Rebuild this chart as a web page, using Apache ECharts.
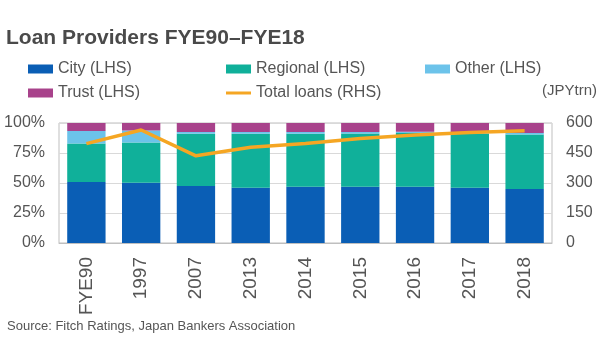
<!DOCTYPE html>
<html><head><meta charset="utf-8">
<script src="https://cdn.jsdelivr.net/npm/echarts@6/dist/echarts.min.js"></script>
<style>html,body{margin:0;padding:0;background:#fff}#c{width:600px;height:360px}</style>
</head><body><div id="c"></div>
<script>
const categories = ['FYE90','1997','2007','2013','2014','2015','2016','2017','2018'];
const city     = [50.8, 50.3, 47.5, 46.1, 46.9, 46.9, 46.9, 46.1, 45.0];
const regional = [32.2, 33.5, 43.6, 45.0, 44.2, 44.4, 44.7, 45.0, 45.5];
const other    = [10.3, 10.0, 1.4, 1.4, 1.4, 1.3, 1.2, 1.3, 1.2];
const trust    = [6.7, 6.2, 7.5, 7.5, 7.5, 7.4, 7.2, 7.6, 8.3];
const totalLoans = [497, 565, 436, 479, 498, 523, 540, 553, 561];
const leftTicks = [0, 25, 50, 75, 100];
const rightTicks = [0, 150, 300, 450, 600];

const FONT = "'Liberation Sans', Arial, sans-serif";
const TXT = '#555555';
const chart = echarts.init(document.getElementById('c'));
const barW = '70%';
const lg = (name, left, top, h) => ({data: [name], left: left, top: top, itemWidth: 25, itemHeight: h, icon: 'rect',
  textStyle: {fontSize: 16, color: TXT, fontFamily: FONT}});
chart.setOption({
  animation: false,
  textStyle: {fontFamily: FONT},
  title: {text: 'Loan Providers FYE90\u2013FYE18', left: 1, top: 23,
    textStyle: {fontFamily: FONT, fontSize: 21, fontWeight: 'bold', color: '#4a4a4a'}},
  legend: [
    lg('City (LHS)', 23, 56, 9),
    lg('Regional (LHS)', 221, 56, 9),
    lg('Other (LHS)', 420, 56, 9),
    lg('Trust (LHS)', 23, 80, 9),
    lg('Total loans (RHS)', 221, 80, 3)
  ],
  graphic: [
    {type: 'text', right: 3, top: 83, style: {text: '(JPYtrn)', fontSize: 15, fill: TXT, fontFamily: FONT}},
    {type: 'text', left: 7, top: 320, style: {text: 'Source: Fitch Ratings, Japan Bankers Association', fontSize: 13, fill: TXT, fontFamily: FONT}}
  ],
  grid: {left: 59, right: 48, top: 123, bottom: 117, show: true, borderColor: '#bfbfbf', borderWidth: 1},
  xAxis: {type: 'category', data: categories,
    axisLine: {lineStyle: {color: '#bfbfbf'}}, axisTick: {show: false},
    axisLabel: {rotate: 90, color: TXT, fontSize: 19, margin: 14, fontFamily: FONT}},
  yAxis: [
    {type: 'value', min: leftTicks[0], max: leftTicks[leftTicks.length-1], interval: 25,
      axisLabel: {formatter: '{value}%', color: TXT, fontSize: 16, margin: 14, fontFamily: FONT},
      splitLine: {lineStyle: {color: '#d9d9d9'}}, axisLine: {show: false}, axisTick: {show: false}},
    {type: 'value', min: rightTicks[0], max: rightTicks[rightTicks.length-1], interval: 150,
      axisLabel: {color: TXT, fontSize: 16, margin: 14, fontFamily: FONT},
      splitLine: {show: false}, axisLine: {show: false}, axisTick: {show: false}}
  ],
  series: [
    {name: 'City (LHS)', type: 'bar', stack: 's', data: city, barWidth: barW, itemStyle: {color: '#0a5eb5'}},
    {name: 'Regional (LHS)', type: 'bar', stack: 's', data: regional, itemStyle: {color: '#10b09a'}},
    {name: 'Other (LHS)', type: 'bar', stack: 's', data: other, itemStyle: {color: '#6cc3ea'}},
    {name: 'Trust (LHS)', type: 'bar', stack: 's', data: trust, itemStyle: {color: '#a8428b'}},
    {name: 'Total loans (RHS)', type: 'line', yAxisIndex: 1, data: totalLoans, symbol: 'none',
      lineStyle: {color: '#f5a623', width: 3.5}, itemStyle: {color: '#f5a623'}}
  ]
});
</script></body></html>
